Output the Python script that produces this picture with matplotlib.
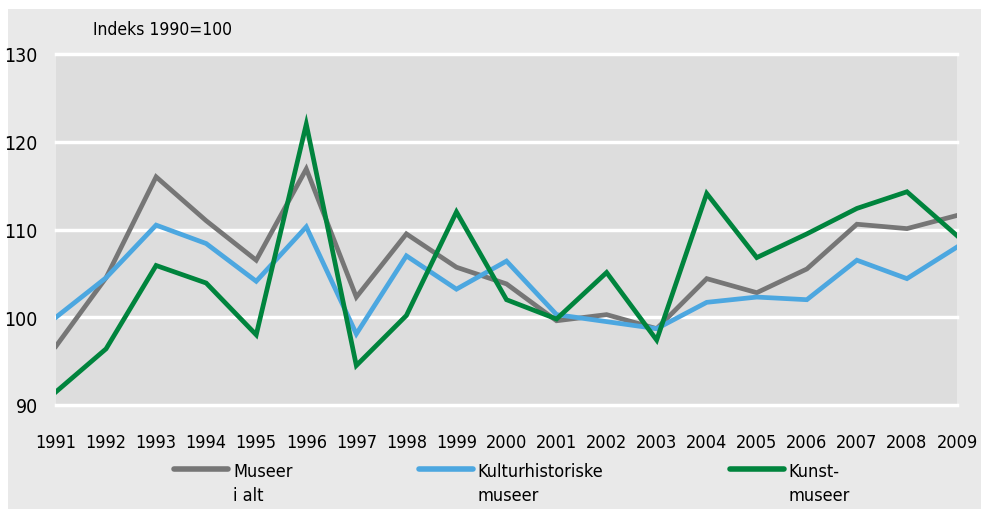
import numpy as np
import matplotlib.pyplot as plt
from matplotlib.patches import Rectangle

# indeks 1990=100, lest av figuren
years = list(range(1991, 2010))
museer_i_alt = [96.7, 104.5, 116.0, 111.0, 106.5, 116.9, 102.3, 109.5, 105.7, 103.8,
                99.6, 100.3, 98.7, 104.4, 102.8, 105.5, 110.6, 110.1, 111.6]
kulturhistoriske = [100.0, 104.5, 110.5, 108.4, 104.1, 110.3, 98.1, 107.0, 103.2, 106.4,
                    100.3, 99.5, 98.7, 101.7, 102.3, 102.0, 106.5, 104.4, 108.0]
kunstmuseer = [91.5, 96.4, 105.9, 103.9, 98.0, 122.0, 94.5, 100.2, 112.0, 102.0,
               99.8, 105.1, 97.4, 114.1, 106.8, 109.5, 112.4, 114.3, 109.3]

labels = ['Museer\ni alt', 'Kulturhistoriske\nmuseer', 'Kunst-\nmuseer']
colors = ['#767676', '#4ca7e0', '#00843d']
yticks = [90, 100, 110, 120, 130]

plt.rcParams['font.family'] = ['DejaVu Sans']
plt.rcParams['font.stretch'] = 'condensed'

fig = plt.figure(figsize=(9.81, 5.10), dpi=100)
fig.patch.set_facecolor('white')
fig.patches.append(Rectangle((8 / 981, 0), 1, 1 - 10 / 510, transform=fig.transFigure,
                             facecolor='#e9e9e9', edgecolor='none', zorder=-5))

ax = fig.add_axes([56 / 981, 1 - 406 / 510, (957 - 56) / 981, (406 - 55) / 510])
ax.set_facecolor('#dddddd')

for vals, lab, col in zip([museer_i_alt, kulturhistoriske, kunstmuseer], labels, colors):
    ax.plot(years, vals, color=col, lw=3.4, label=lab, solid_joinstyle='miter')

ax.set_xlim(1991, 2009)
ax.set_ylim(90, 130)
ax.set_xticks(years)
ax.set_yticks(yticks)
for y in yticks:
    ax.axhline(y, color='white', lw=2.5, zorder=0.5, clip_on=False)
for s in ax.spines.values():
    s.set_visible(False)
ax.tick_params(axis='both', length=0, labelsize=13)
ax.tick_params(axis='y', labelsize=14, pad=13)
ax.tick_params(axis='x', pad=20)

fig.text(93 / 981, 1 - 30 / 510, 'Indeks 1990=100', fontsize=12.5, va='center', ha='left')

leg = fig.legend(loc='upper left', bbox_to_anchor=(158 / 981, 1 - 447 / 510), ncol=3,
                 frameon=False, fontsize=13, handlelength=3.0, columnspacing=7.0,
                 handletextpad=0.25, labelspacing=0.2)
for line in leg.get_lines():
    line.set_linewidth(4)
    line.set_solid_capstyle('round')
for t in leg.get_texts():
    t.set_linespacing(1.4)
# handtaket skal stå ved første linje
for col in leg._legend_handle_box.get_children():
    for row in col.get_children():
        row.align = 'top'

fig.savefig('out.png', dpi=100, facecolor=fig.get_facecolor())
